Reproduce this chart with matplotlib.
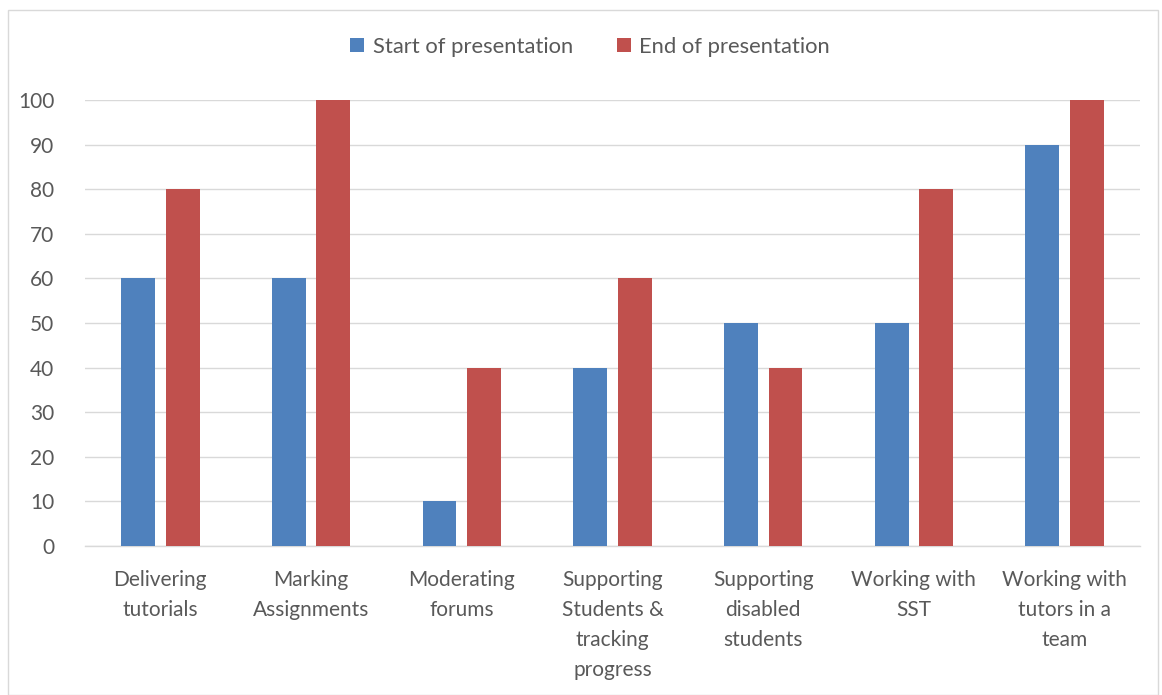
import matplotlib
matplotlib.use("Agg")
import matplotlib.pyplot as plt
import numpy as np
from matplotlib.patches import Rectangle

categories = ["Delivering\ntutorials", "Marking\nAssignments", "Moderating\nforums",
              "Supporting\nStudents &\ntracking\nprogress", "Supporting\ndisabled\nstudents",
              "Working with\nSST", "Working with\ntutors in a\nteam"]
start_vals = [60, 60, 10, 40, 50, 50, 90]
end_vals = [80, 100, 40, 60, 40, 80, 100]
series_names = ["Start of presentation", "End of presentation"]
yticks = list(range(0, 101, 10))

plt.rcParams['font.family'] = ['Lato', 'DejaVu Sans']
txt = '#595959'
blue = '#4F81BD'
red = '#C0504D'

fig = plt.figure(figsize=(11.62, 6.95), dpi=100)
fig.patches.append(Rectangle((8/1162, 0), 1150/1162, 1 - 10/695, transform=fig.transFigure,
                             fill=False, edgecolor='#D9D9D9', linewidth=1))
ax = fig.add_axes([85/1162, 1 - 546/695, 1055/1162, 446/695])

x = np.arange(len(categories))
w = 0.224
gap = 0.072
ax.bar(x - (w + gap) / 2, start_vals, w, color=blue, label=series_names[0], zorder=3)
ax.bar(x + (w + gap) / 2, end_vals, w, color=red, label=series_names[1], zorder=3)

ax.set_xlim(-0.5, len(categories) - 0.5)
ax.set_ylim(0, 100)
ax.set_yticks(yticks)
ax.set_yticklabels([str(v) for v in yticks], fontsize=15, color=txt)
ax.set_xticks(x)
ax.set_xticklabels(categories, fontsize=15, color=txt, linespacing=1.64)
ax.tick_params(axis='both', length=0)
ax.tick_params(axis='y', pad=22)
ax.tick_params(axis='x', pad=17)
for lbl in ax.get_yticklabels():
    lbl.set_horizontalalignment('right')
ax.yaxis.grid(True, color='#D9D9D9', linewidth=1, zorder=0)
for s in ['top', 'right', 'left']:
    ax.spines[s].set_visible(False)
ax.spines['bottom'].set_color('#D9D9D9')
ax.spines['bottom'].set_linewidth(1)

leg = fig.legend(loc='center', bbox_to_anchor=(0.508, 1 - 47/695), ncol=2, frameon=False,
                 fontsize=15.8, handlelength=0.62, handleheight=0.62, handletextpad=0.4,
                 columnspacing=2.0, labelcolor=txt)

fig.savefig("out.png", dpi=100, facecolor='white')
